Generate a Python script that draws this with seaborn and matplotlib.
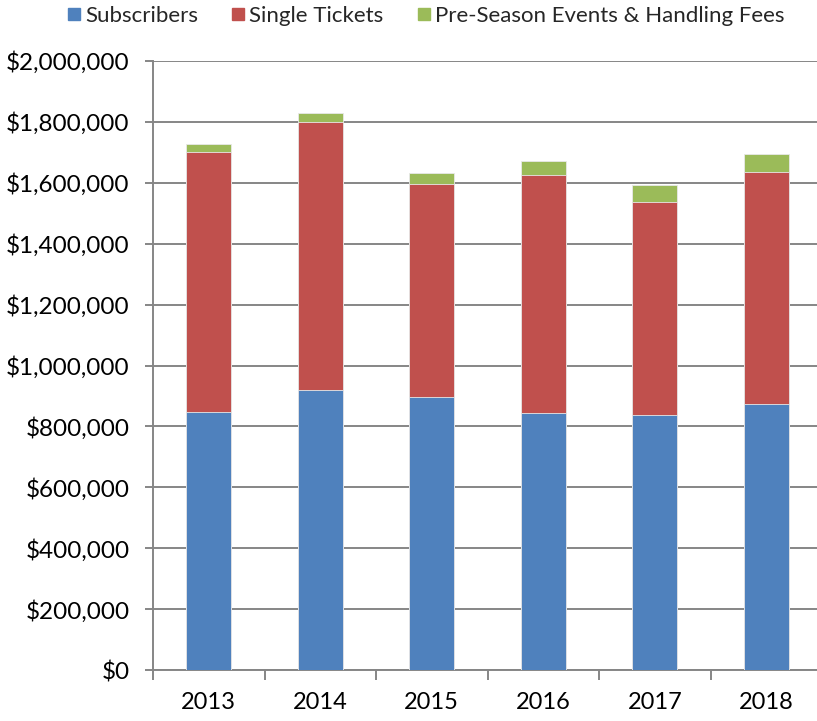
import numpy as np
import pandas as pd
import seaborn as sns
import matplotlib.pyplot as plt
from matplotlib.lines import Line2D
from matplotlib.ticker import FuncFormatter, MultipleLocator, FixedLocator

# Data
years = ["2013", "2014", "2015", "2016", "2017", "2018"]
subscribers = [846000, 918000, 895000, 844000, 839000, 873000]
single_tickets = [854000, 881000, 701000, 783000, 698000, 763000]
pre_season = [29000, 30000, 37000, 46000, 55000, 57000]

series_names = ["Subscribers", "Single Tickets", "Pre-Season Events & Handling Fees"]
colors = ["#4F81BD", "#C0504D", "#9BBB59"]

df = pd.DataFrame({
    "Year": years,
    "Subscribers": subscribers,
    "Single Tickets": single_tickets,
    "Pre-Season Events & Handling Fees": pre_season,
})
# cumulative tops so overlapping bars look stacked
df["top_blue"] = df["Subscribers"]
df["top_red"] = df["top_blue"] + df["Single Tickets"]
df["top_green"] = df["top_red"] + df["Pre-Season Events & Handling Fees"]

sns.set_style("white")
plt.rcParams["font.family"] = ["Lato", "DejaVu Sans"]

fig = plt.figure(figsize=(8.17, 7.21), dpi=100)
ax = fig.add_axes([0.1873, 0.0707, 0.8127, 0.8447])

# draw tallest first, each lower segment on top
for col, c in zip(["top_green", "top_red", "top_blue"], colors[::-1]):
    sns.barplot(data=df, x="Year", y=col, color=c, width=0.4, saturation=1,
                edgecolor="#e8e8e8", linewidth=0.6, ax=ax, zorder=3)

ax.set_ylim(0, 2000000)
ax.set_xlim(-0.5, 5.455)
ax.yaxis.set_major_locator(MultipleLocator(200000))
ax.yaxis.set_major_formatter(FuncFormatter(lambda v, p: "${:,.0f}".format(v)))
ax.grid(axis="y", color="#868686", linewidth=1.4, zorder=0)
ax.set_axisbelow(True)

ax.set_xlabel("")
ax.set_ylabel("")

# labels centered, ticks at category boundaries
ax.xaxis.set_minor_locator(FixedLocator(np.arange(-0.5, 6, 1)))
ax.tick_params(axis="x", which="major", length=0, pad=16, labelsize=17, labelcolor="black")
ax.tick_params(axis="x", which="minor", length=7, width=1.4, color="#868686", direction="out")
ax.tick_params(axis="y", which="major", length=6, width=1.4, color="#868686",
               direction="out", pad=11, labelsize=17.5, labelcolor="black")
ax.tick_params(bottom=True, left=True, which="both")

for s in ["top", "right"]:
    ax.spines[s].set_visible(False)
for s in ["left", "bottom"]:
    ax.spines[s].set_color("#868686")
    ax.spines[s].set_linewidth(1.4)

handles = [Line2D([0], [0], marker="s", linestyle="", markersize=9,
                  markerfacecolor=c, markeredgecolor=c) for c in colors]
fig.legend(handles, series_names, loc="upper center", bbox_to_anchor=(0.52, 1.02),
           ncol=3, frameon=False, fontsize=16, handletextpad=0.1,
           columnspacing=1.4, handlelength=0.8)

fig.savefig("out.png", dpi=100)
